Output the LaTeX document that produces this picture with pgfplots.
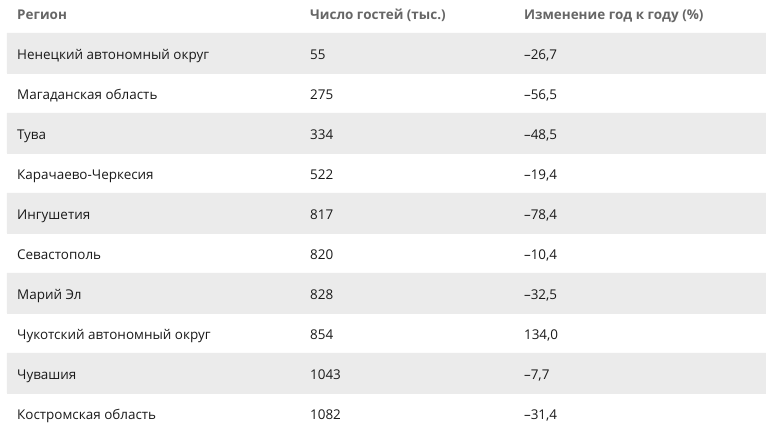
\documentclass[border=0pt]{standalone}
\usepackage{pgfplots}
\usepackage{pgfplotstable}
\pgfplotsset{compat=1.18}
\usepackage{fontspec}
\setmainfont{Open Sans}
\definecolor{rowshade}{RGB}{235,235,235}
\definecolor{headtxt}{HTML}{666666}
\definecolor{bodytxt}{HTML}{1A1A1A}
\newcommand{\hd}[1]{\textcolor{headtxt}{\bfseries #1}}

\pgfplotstableread[col sep=semicolon]{
x;y;label
17;20;\hd{Регион}
310;20;\hd{Число гостей (тыс.)}
524;20;\hd{Изменение год к году (\%)}
17;59.5;Ненецкий автономный округ
310;59.5;55
524;59.5;–26,7
17;99.5;Магаданская область
310;99.5;275
524;99.5;–56,5
17;139.5;Тува
310;139.5;334
524;139.5;–48,5
17;179.5;Карачаево-Черкесия
310;179.5;522
524;179.5;–19,4
17;219.5;Ингушетия
310;219.5;817
524;219.5;–78,4
17;259.5;Севастополь
310;259.5;820
524;259.5;–10,4
17;299.5;Марий Эл
310;299.5;828
524;299.5;–32,5
17;339.5;Чукотский автономный округ
310;339.5;854
524;339.5;134,0
17;379.5;Чувашия
310;379.5;1043
524;379.5;–7,7
17;419.5;Костромская область
310;419.5;1082
524;419.5;–31,4
}\datatable

\pgfplotsset{tablegrid/.style={
  scale only axis, width=766bp, height=439bp,
  xmin=0, xmax=766, ymin=0, ymax=439,
  y dir=reverse, hide axis, clip=false, at={(0,0)}, anchor=south west}}

\begin{document}
\begin{tikzpicture}
\begin{axis}[tablegrid]
\addplot[draw=none, forget plot] coordinates {(0,0) (766,439)};
% shaded rows
\addplot[fill=rowshade, draw=rowshade, mark=none, forget plot] coordinates {(7,33) (766,33) (766,73) (7,73) (7,33)};
\addplot[fill=rowshade, draw=rowshade, mark=none, forget plot] coordinates {(7,113) (766,113) (766,153) (7,153) (7,113)};
\addplot[fill=rowshade, draw=rowshade, mark=none, forget plot] coordinates {(7,193) (766,193) (766,233) (7,233) (7,193)};
\addplot[fill=rowshade, draw=rowshade, mark=none, forget plot] coordinates {(7,273) (766,273) (766,313) (7,313) (7,273)};
\addplot[fill=rowshade, draw=rowshade, mark=none, forget plot] coordinates {(7,353) (766,353) (766,393) (7,393) (7,353)};
\end{axis}
\begin{axis}[tablegrid]
\addplot[draw=none, mark=none, nodes near coords, point meta=explicit symbolic,
    every node near coord/.style={anchor=base west, inner sep=0pt, text=bodytxt, font=\fontsize{13.5}{16}\selectfont}]
    table[x=x, y=y, meta=label] {\datatable};
\end{axis}
\end{tikzpicture}
\end{document}
